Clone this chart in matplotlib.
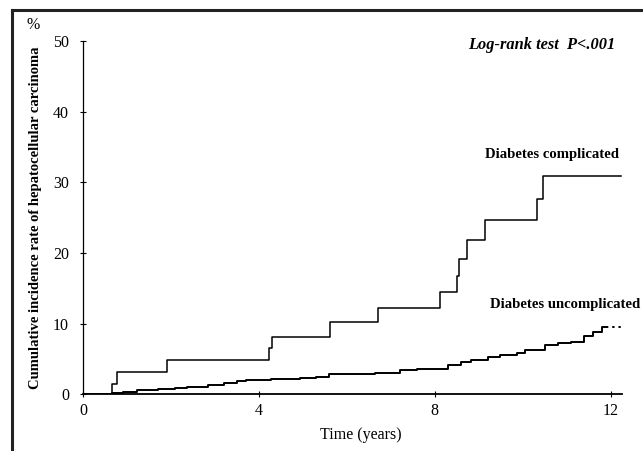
import matplotlib.pyplot as plt
import numpy as np

plt.rcParams['font.family'] = ['Liberation Serif', 'DejaVu Serif']

# Kaplan-Meier style step data (years, cumulative incidence %)
comp_t = [0, 0.65, 0.77, 1.92, 4.23, 4.29, 5.62, 6.70, 8.12, 8.50, 8.55, 8.72, 9.15, 10.33, 10.46]
comp_y = [0, 1.5, 3.1, 4.8, 6.6, 8.1, 10.2, 12.2, 14.4, 16.8, 19.2, 21.9, 24.6, 27.7, 30.9]
comp_end = 12.23

uncomp_t = [0, 0.66, 0.9, 1.23, 1.7, 2.1, 2.37, 2.85, 3.2, 3.5, 3.7, 4.27, 4.93, 5.3, 5.6,
            6.2, 6.64, 7.2, 7.6, 7.97, 8.3, 8.6, 8.82, 9.2, 9.49, 9.87, 10.06, 10.5, 10.8,
            11.1, 11.4, 11.6, 11.8]
uncomp_y = [0, 0.1, 0.3, 0.6, 0.8, 0.9, 1.0, 1.3, 1.55, 1.8, 2.0, 2.1, 2.25, 2.5, 2.8,
            2.9, 3.0, 3.4, 3.5, 3.6, 4.2, 4.5, 4.9, 5.2, 5.5, 5.9, 6.3, 7.0, 7.2,
            7.4, 8.2, 8.8, 9.5]
uncomp_solid_end = 11.88
uncomp_end = 12.23

x_ticks = [0, 4, 8, 12]
y_ticks = [0, 10, 20, 30, 40, 50]

fig = plt.figure(figsize=(6.43, 4.51), dpi=100)
ax = fig.add_axes([0.129, 0.126, 0.838, 0.783])

# complicated group
ax.step(comp_t + [comp_end], comp_y + [comp_y[-1]], where='post', color='black', linewidth=1.1)

# uncomplicated group, dotted tail after the last event
ax.step(uncomp_t + [uncomp_solid_end], uncomp_y + [uncomp_y[-1]], where='post',
        color='black', linewidth=1.4)
ax.plot([uncomp_solid_end, uncomp_end], [uncomp_y[-1], uncomp_y[-1]],
        color='black', linewidth=1.4, linestyle=(0, (1.2, 2.0)))

ax.set_xlim(0, 12.25)
ax.set_ylim(0, 50)
ax.set_xticks(x_ticks)
ax.set_yticks(y_ticks)
ax.spines['top'].set_visible(False)
ax.spines['right'].set_visible(False)
ax.spines['left'].set_linewidth(0.9)
ax.spines['bottom'].set_linewidth(1.3)
ax.tick_params(axis='both', direction='inout', length=4, width=0.8, labelsize=11.5)
ax.tick_params(axis='y', pad=8)
ax.tick_params(axis='x', pad=4)

ax.set_xlabel('Time (years)', fontsize=11.5)
ax.xaxis.set_label_coords(0.516, -0.092)
ax.set_ylabel('Cumulative incidence rate of hepatocellular carcinoma', fontsize=10.5,
              fontweight='bold')
ax.yaxis.set_label_coords(-0.076, 0.5)
ax.text(-0.093, 1.045, '%', transform=ax.transAxes, fontsize=11.5, ha='center', va='center')

ax.text(12.1, 49.5, 'Log-rank test  P<.001', fontsize=11.8, style='italic',
        fontweight='bold', ha='right', va='center')
ax.text(12.18, 33.9, 'Diabetes complicated', fontsize=10.6, fontweight='bold',
        ha='right', va='center')
ax.text(12.68, 12.7, 'Diabetes uncomplicated', fontsize=10.6, fontweight='bold',
        ha='right', va='center', clip_on=False)

# page border around the figure panel
fig.add_artist(plt.Line2D([12 / 643, 12 / 643], [0, 1 - 10 / 451], color='#222222', linewidth=2.2))
fig.add_artist(plt.Line2D([12 / 643, 1], [1 - 10 / 451, 1 - 10 / 451], color='#222222', linewidth=2.2))

fig.savefig('out.png', dpi=100)
